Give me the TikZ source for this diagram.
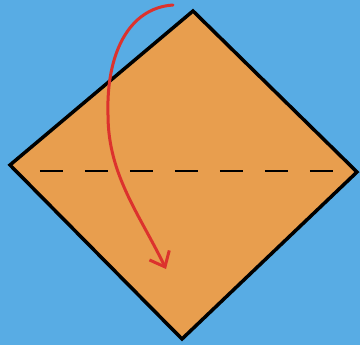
\documentclass[tikz,border=0pt]{standalone}
\usepackage{xcolor}
\usepackage{tikz}
\usetikzlibrary{arrows.meta}

\definecolor{skyblue}{RGB}{88,172,228}
\definecolor{paper}{RGB}{232,158,78}
\definecolor{foldred}{RGB}{220,50,45}

\begin{document}
\begin{tikzpicture}[
  x=1pt, y=-1pt,
  sheet/.style={fill=paper, draw=black, line width=3.5pt, line join=miter},
  foldline/.style={draw=black, line width=2.2pt, dash pattern=on 23pt off 22pt},
  foldarrow/.style={draw=foldred, line width=3pt, line cap=round,
    -{Straight Barb[length=13pt, width=22pt, line width=3pt]}},
]

% background
\fill[skyblue] (0,0) rectangle (360,345);
\useasboundingbox (0,0) rectangle (360,345);

% square sheet turned on its corner
\coordinate (top) at (193,11);
\coordinate (right) at (357,172);
\coordinate (bottom) at (182,339);
\coordinate (left) at (10,165);
\path[sheet] (top) -- (right) -- (bottom) -- (left) -- cycle;

% fold line
\coordinate (fl) at (40,171);
\coordinate (fr) at (333,171);
\path[foldline] (fl) -- (fr);

% fold arrow
\coordinate (start) at (173,5);
\coordinate (bend) at (108,115);
\coordinate (tip) at (166,269);
\path[foldarrow] (start) .. controls (128,8) and (106,55) .. (bend)
  .. controls (108,175) and (140,215) .. (tip);

\end{tikzpicture}
\end{document}
